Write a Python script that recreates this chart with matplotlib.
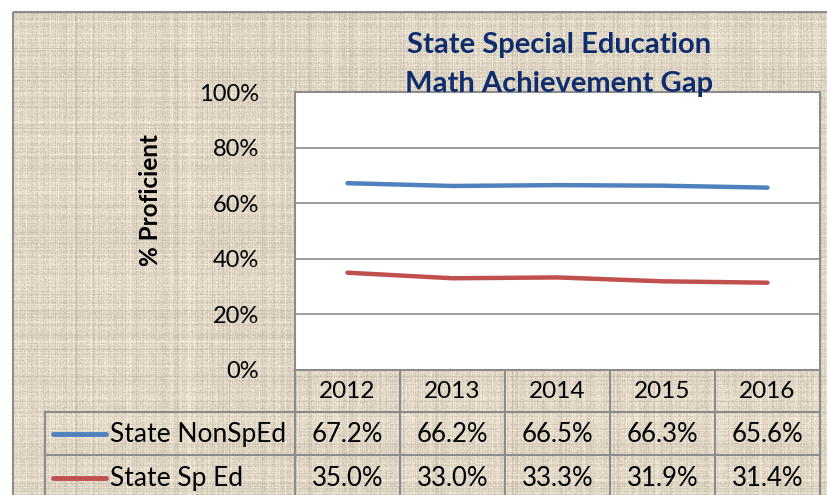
import numpy as np
import matplotlib.pyplot as plt
from matplotlib.patches import Rectangle

plt.rcParams['font.family'] = ['Lato', 'DejaVu Sans']

years = ['2012', '2013', '2014', '2015', '2016']
series_names = ['State NonSpEd', 'State Sp Ed']
non_sped = [67.2, 66.2, 66.5, 66.3, 65.6]
sp_ed = [35.0, 33.0, 33.3, 31.9, 31.4]
colors = ['#4F81BD', '#C0504D']
yticks = [0, 20, 40, 60, 80, 100]

W, H = 827, 495
fig = plt.figure(figsize=(W / 100, H / 100), dpi=100)
fig.patch.set_facecolor('white')

# background canvas in pixel coordinates
bg = fig.add_axes([0, 0, 1, 1])
bg.axis('off')

# paper-like texture for the chart area (decoration only)
rng = np.random.default_rng(3)
tex_h, tex_w = 500, 830
base = np.array([222, 213, 196]) / 255.0
rows = rng.normal(0, 0.025, (tex_h, 1))
cols = rng.normal(0, 0.025, (1, tex_w))
grain = rng.normal(0, 0.025, (tex_h, tex_w))
shade = np.clip(rows + cols + grain, -0.1, 0.1)
tex = np.clip(base[None, None, :] + shade[:, :, None], 0, 1)
bg.imshow(tex, extent=(13, 843, 512, 12), zorder=0, interpolation='bilinear')
bg.add_patch(Rectangle((13, 12), 840, 500, fill=False, edgecolor='#8c8c8c', lw=1.5, zorder=1))

# plot area
left, right, top, bottom = 295, 820, 92, 370
ax = fig.add_axes([left / W, 1 - bottom / H, (right - left) / W, (bottom - top) / H])
ax.set_facecolor('white')
x = np.arange(len(years))
ax.plot(x, non_sped, color=colors[0], lw=3.2, solid_capstyle='round', zorder=3)
ax.plot(x, sp_ed, color=colors[1], lw=3.2, solid_capstyle='round', zorder=3)
ax.set_xlim(-0.5, len(years) - 0.5)
ax.set_ylim(0, 100)
ax.set_yticks(yticks)
ax.set_yticklabels([f'{v}%' for v in yticks], fontsize=17)
ax.set_xticks([])
ax.tick_params(axis='y', length=0, pad=26)
ax.grid(axis='y', color='#8c8c8c', lw=1.2)
ax.set_axisbelow(True)
for s in ax.spines.values():
    s.set_color('#8c8c8c')
    s.set_linewidth(1.5)

# axis title and chart title (title drawn on top of the plot area)
bg.text(150, 200, '% Proficient', rotation=90, ha='center', va='center',
        fontsize=17.5, fontweight='bold')
title_kw = dict(ha='center', va='center', fontsize=21, fontweight='bold',
                color='#0F2D6E', zorder=10)
fig.text(559 / W, 1 - 45 / H, 'State Special Education', **title_kw)
fig.text(559 / W, 1 - 84 / H, 'Math Achievement Gap', **title_kw)

# data table below the plot
col_w = (right - left) / len(years)
row_edges = [370, 412, 455, 500]
lab_left = 45
gc = '#8c8c8c'
for i, yr in enumerate(years):
    cx = left + (i + 0.5) * col_w
    bg.text(cx, (row_edges[0] + row_edges[1]) / 2 + 1, yr, ha='center', va='center', fontsize=17.5)
    for r, vals in enumerate([non_sped, sp_ed]):
        cy = (row_edges[r + 1] + row_edges[r + 2]) / 2 + 1
        bg.text(cx, cy, f'{vals[i]:.1f}%', ha='center', va='center', fontsize=18.5)
for i in range(len(years) + 1):
    xx = left + i * col_w
    bg.plot([xx, xx], [row_edges[0], H + 5], color=gc, lw=1.5, zorder=2)
bg.plot([lab_left, lab_left], [row_edges[1], H + 5], color=gc, lw=1.5, zorder=2)
bg.plot([lab_left, right], [row_edges[1], row_edges[1]], color=gc, lw=1.5, zorder=2)
bg.plot([lab_left, right], [row_edges[2], row_edges[2]], color=gc, lw=1.5, zorder=2)
for r, name in enumerate(series_names):
    cy = (row_edges[r + 1] + row_edges[r + 2]) / 2
    bg.plot([53, 106], [cy, cy], color=colors[r], lw=3.5, solid_capstyle='round', zorder=3)
    bg.text(110, cy + 1, name, ha='left', va='center', fontsize=19)
bg.set_xlim(0, W)
bg.set_ylim(H, 0)

fig.savefig('out.png', dpi=100)
